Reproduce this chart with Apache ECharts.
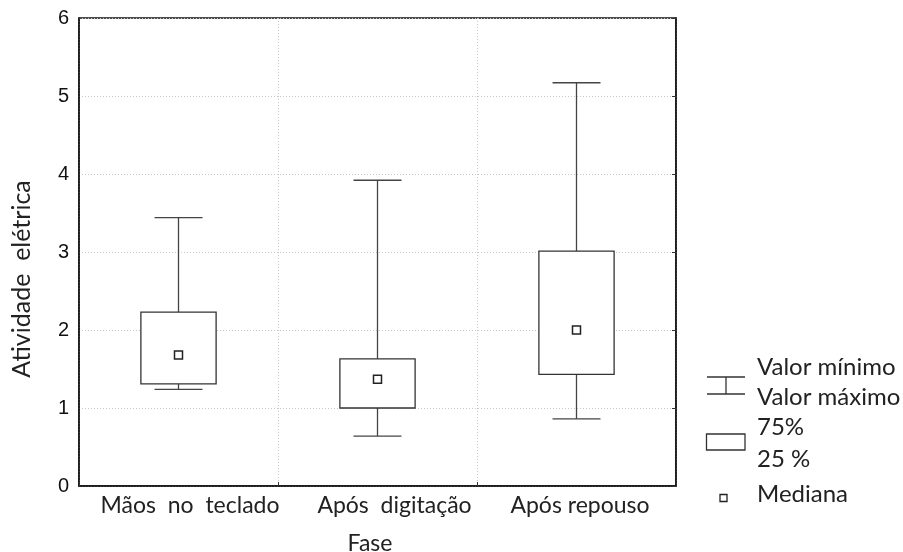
<!DOCTYPE html>
<html>
<head>
<meta charset="utf-8">
<script src="https://cdn.jsdelivr.net/npm/echarts@6/dist/echarts.min.js"></script>
<style>html,body{margin:0;padding:0;background:#fff}#c{width:903px;height:552px}</style>
</head>
<body>
<div id="c"></div>
<script>
var categories = ['Mãos  no  teclado', 'Após  digitação', 'Após repouso'];
var minValues = [1.24, 0.64, 0.86];
var q1Values = [1.31, 1.00, 1.43];
var medianValues = [1.68, 1.37, 2.00];
var q3Values = [2.23, 1.63, 3.01];
var maxValues = [3.44, 3.92, 5.17];
var yTicks = [0, 1, 2, 3, 4, 5, 6];
var legendLabels = ['Valor mínimo', 'Valor máximo', '75%', '25 %', 'Mediana'];

var humanist = 'Lato, "Open Sans", sans-serif';
var chart = echarts.init(document.getElementById('c'), null, {renderer: 'canvas'});
var data = categories.map(function (c, i) {
  return [i, minValues[i], q1Values[i], medianValues[i], q3Values[i], maxValues[i]];
});
var labelShift = [23, 34, 7];
var categoryData = categories.map(function (c, i) {
  return {value: c, textStyle: {padding: [0, 0, 0, labelShift[i]]}};
});

function renderItem(params, api) {
  var i = api.value(0);
  var pMin = api.coord([i, api.value(1)]);
  var pQ1 = api.coord([i, api.value(2)]);
  var pMed = api.coord([i, api.value(3)]);
  var pQ3 = api.coord([i, api.value(4)]);
  var pMax = api.coord([i, api.value(5)]);
  var bw = api.size([1, 0])[0];
  var boxW = bw * 0.378;
  var capW = bw * 0.241;
  var x = pMin[0];
  var lineStyle = {stroke: '#444', lineWidth: 1.3, fill: null};
  var sq = 8;
  return {
    type: 'group',
    children: [
      {type: 'line', shape: {x1: x, y1: pMax[1], x2: x, y2: pQ3[1]}, style: lineStyle},
      {type: 'line', shape: {x1: x, y1: pQ1[1], x2: x, y2: pMin[1]}, style: lineStyle},
      {type: 'line', shape: {x1: x - capW / 2, y1: pMax[1], x2: x + capW / 2, y2: pMax[1]}, style: lineStyle},
      {type: 'line', shape: {x1: x - capW / 2, y1: pMin[1], x2: x + capW / 2, y2: pMin[1]}, style: lineStyle},
      {type: 'rect', shape: {x: x - boxW / 2, y: pQ3[1], width: boxW, height: pQ1[1] - pQ3[1]},
        style: {stroke: '#333', lineWidth: 1.3, fill: '#fff'}},
      {type: 'rect', shape: {x: x - sq / 2, y: pMed[1] - sq / 2, width: sq, height: sq},
        style: {stroke: '#222', lineWidth: 1.5, fill: '#fff'}}
    ]
  };
}

var legendFont = '24px ' + humanist;
var legendY = [367, 397, 427, 459, 494];
var graphics = [
  {type: 'line', shape: {x1: 707, y1: 377, x2: 745, y2: 377}, style: {stroke: '#333', lineWidth: 1.3}},
  {type: 'line', shape: {x1: 707, y1: 394, x2: 745, y2: 394}, style: {stroke: '#333', lineWidth: 1.3}},
  {type: 'line', shape: {x1: 726, y1: 377, x2: 726, y2: 394}, style: {stroke: '#333', lineWidth: 1.3}},
  {type: 'rect', shape: {x: 706.5, y: 434, width: 38.5, height: 16}, style: {stroke: '#333', lineWidth: 1.3, fill: '#fff'}},
  {type: 'rect', shape: {x: 720, y: 494.5, width: 7, height: 7}, style: {stroke: '#222', lineWidth: 1.3, fill: '#fff'}}
];
legendLabels.forEach(function (t, k) {
  graphics.push({type: 'text', x: 757, y: legendY[k], style: {text: t, font: legendFont, fill: '#222', verticalAlign: 'middle', align: 'left'}});
});

chart.setOption({
  animation: false,
  grid: {left: 79, right: 227, top: 18, bottom: 66, outerBoundsMode: 'none', containLabel: false,
    show: true, borderColor: '#111', borderWidth: 1.5, backgroundColor: 'transparent'},
  xAxis: {
    type: 'category',
    data: categoryData,
    boundaryGap: true,
    name: 'Fase',
    nameLocation: 'middle',
    nameGap: 46,
    nameTextStyle: {fontFamily: humanist, fontSize: 23, color: '#222', padding: [0, 15, 0, 0]},
    axisLine: {lineStyle: {color: '#111', width: 1.5}},
    axisTick: {show: true, inside: true, length: 4, interval: 0, lineStyle: {color: '#333'}},
    axisLabel: {fontFamily: humanist, fontSize: 23, color: '#222', margin: 8, interval: 0, hideOverlap: false},
    splitLine: {show: true, interval: 0, lineStyle: {color: '#c8c8c8', type: [1, 2], width: 1}}
  },
  yAxis: [{
    type: 'value',
    min: yTicks[0],
    max: yTicks[yTicks.length - 1],
    interval: 1,
    name: 'Atividade  elétrica',
    nameLocation: 'middle',
    nameGap: 45,
    nameTextStyle: {fontFamily: humanist, fontSize: 25, color: '#222', padding: [0, 54, 0, 0]},
    axisLine: {show: true, lineStyle: {color: '#111', width: 1.5}},
    axisTick: {show: false},
    axisLabel: {fontFamily: '"Liberation Sans", Arial, sans-serif', fontSize: 20, color: '#111', margin: 10},
    splitLine: {show: true, lineStyle: {color: '#c8c8c8', type: [1, 2], width: 1}}
  }, {
    type: 'value',
    position: 'right',
    min: yTicks[0],
    max: yTicks[yTicks.length - 1],
    interval: 1,
    axisLine: {show: true, lineStyle: {color: '#111', width: 1.5}},
    axisTick: {show: true, inside: true, length: 4, lineStyle: {color: '#333'}},
    axisLabel: {show: false},
    splitLine: {show: false}
  }],
  series: [{
    type: 'custom',
    renderItem: renderItem,
    data: data,
    encode: {x: 0, y: [1, 2, 3, 4, 5]},
    yAxisIndex: 0,
    z: 5
  }],
  graphic: graphics
});
</script>
</body>
</html>
